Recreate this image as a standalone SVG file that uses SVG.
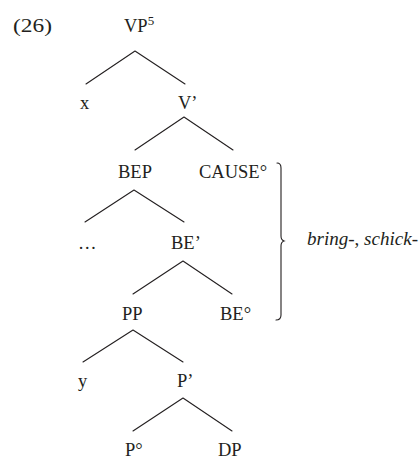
<svg xmlns="http://www.w3.org/2000/svg" width="420" height="457" viewBox="0 0 420 457">
  <style>
    text { font-family: "Liberation Serif", "Times New Roman", serif; font-size: 18.5px; fill: #231f20; }
    .sup { font-size: 13px; }
    .it { font-style: italic; }
    .edge { stroke: #231f20; stroke-width: 1.1; fill: none; stroke-linecap: round; }
  </style>
  <rect width="420" height="457" fill="#ffffff"/>

  <text id="ex-number" x="13" y="32" textLength="39" lengthAdjust="spacingAndGlyphs">(26)</text>

  <!-- tree edges -->
  <g id="connectors">
    <path class="edge" d="M135,51 L86,84 M135,51 L185,84"/>
    <path class="edge" d="M184,117 L135,150 M184,117 L233,150"/>
    <path class="edge" d="M134,190 L85,222 M134,190 L184,222"/>
    <path class="edge" d="M183,261 L133,294 M183,261 L232,294"/>
    <path class="edge" d="M133,330 L83,362 M133,330 L183,362"/>
    <path class="edge" d="M183,398 L133,431 M183,398 L232,431"/>
  </g>

  <!-- nodes -->
  <g id="VP"><text x="124" y="32">VP<tspan class="sup" dy="-7">5</tspan></text></g>
  <g id="x"><text x="80" y="109">x</text></g>
  <g id="Vbar"><text x="178" y="109">V’</text></g>
  <g id="BEP"><text x="118" y="178">BEP</text></g>
  <g id="CAUSE"><text x="199" y="178">CAUSE°</text></g>
  <g id="dots"><text x="78" y="249">…</text></g>
  <g id="BEbar"><text x="171" y="249">BE’</text></g>
  <g id="PP"><text x="122" y="320">PP</text></g>
  <g id="BE"><text x="220" y="320">BE°</text></g>
  <g id="y"><text x="78" y="387">y</text></g>
  <g id="Pbar"><text x="177" y="387">P’</text></g>
  <g id="P"><text x="125" y="456">P°</text></g>
  <g id="DP"><text x="218" y="456">DP</text></g>

  <!-- brace spanning CAUSE° .. BE° -->
  <g id="brace">
    <path class="edge" d="M277,163 Q281,163 281,168 L281,236 Q281,240 284,241 Q281,242 281,246 L281,315 Q281,320 276,320"/>
    <text x="307" y="245" textLength="111" lengthAdjust="spacingAndGlyphs"><tspan class="it">bring-</tspan>, <tspan class="it">schick-</tspan></text>
  </g>
</svg>
